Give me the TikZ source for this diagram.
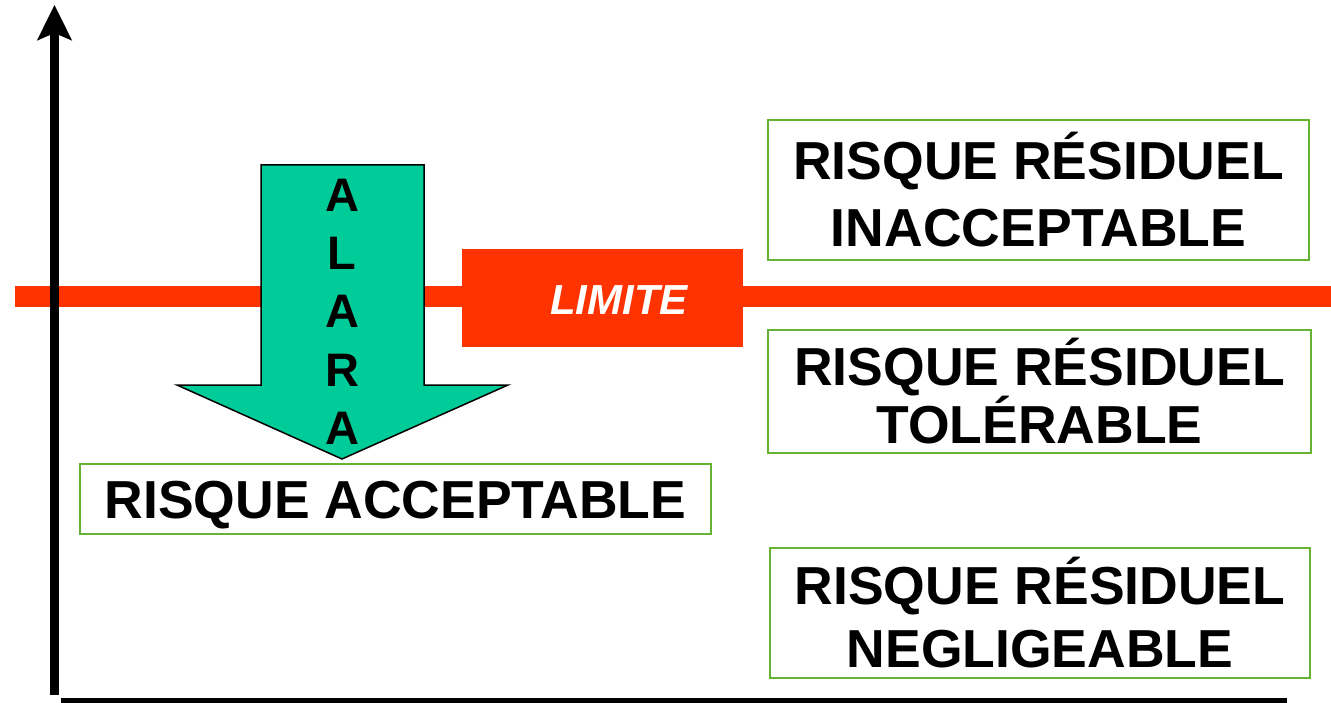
\documentclass[tikz,border=0pt]{standalone}
\usepackage{fontspec}
\setmainfont{Liberation Sans}
\usetikzlibrary{arrows.meta,positioning}
\definecolor{rared}{RGB}{255,51,0}
\definecolor{ragreen}{RGB}{0,204,153}
\definecolor{raframe}{RGB}{102,178,51}
\tikzset{
  rabox/.style={draw=raframe, line width=2pt, align=center, inner sep=0pt, font=\fontsize{53.5}{#1}\selectfont\bfseries},
  raletter/.style={inner sep=0pt, font=\fontsize{47}{52}\selectfont\bfseries},
  raaxis/.style={draw=black, line width=9pt},
  raarr/.style={-{Stealth[length=35pt, width=34pt, inset=7pt]}}
}

\begin{document}
\begin{tikzpicture}[x=1pt, y=-1pt]
  \useasboundingbox (0,0) rectangle (1331,703);
  % limit line
  \coordinate (lineL) at (15,297);
  \coordinate (lineR) at (1331,297);
  \draw[rared, line width=21pt] (lineL) -- (lineR);
  \node[fill=rared, minimum width=281pt, minimum height=98pt, inner sep=0pt] (limit) at (602.5,298) {};
  \node[text=white, inner sep=0pt, font=\fontsize{42}{48}\selectfont\bfseries\itshape] (limtxt) at (619,300) {LIMITE};
  % ALARA arrow
  \draw[fill=ragreen, line width=1.5pt, line join=miter]
    (261,165) -- (424,165) -- (424,385) -- (508,385) -- (342,459) -- (177,385) -- (261,385) -- cycle;
  \foreach \l [count=\i from 0] in {A,L,A,R,A}
    \node[raletter] (alara\i) at (342,195+58.3*\i) {\l};
  % boxes
  \node[rabox=67, minimum width=541pt, minimum height=140pt] (inacc) at (1038.5,190) {RISQUE RÉSIDUEL\\INACCEPTABLE};
  \node[rabox=58, minimum width=543pt, minimum height=123pt] (toler) at (1039.5,391.5) {RISQUE RÉSIDUEL\\TOLÉRABLE};
  \node[rabox=63, minimum width=540pt, minimum height=130pt] (negli) at (1040,613) {RISQUE RÉSIDUEL\\NEGLIGEABLE};
  \node[rabox=60, minimum width=631pt, minimum height=70pt, text height=38pt, text depth=0pt] (accept) at (395.5,499) {RISQUE ACCEPTABLE};
  % axes
  \coordinate (orig) at (54.5,695);
  \coordinate (ytop) at (54.5,5);
  \coordinate (xstart) at (61,700.5);
  \coordinate (xend) at (1287,700.5);
  \draw[raaxis, raarr] (orig) -- (ytop);
  \draw[line width=5pt] (xstart) -- (xend);
\end{tikzpicture}
\end{document}
